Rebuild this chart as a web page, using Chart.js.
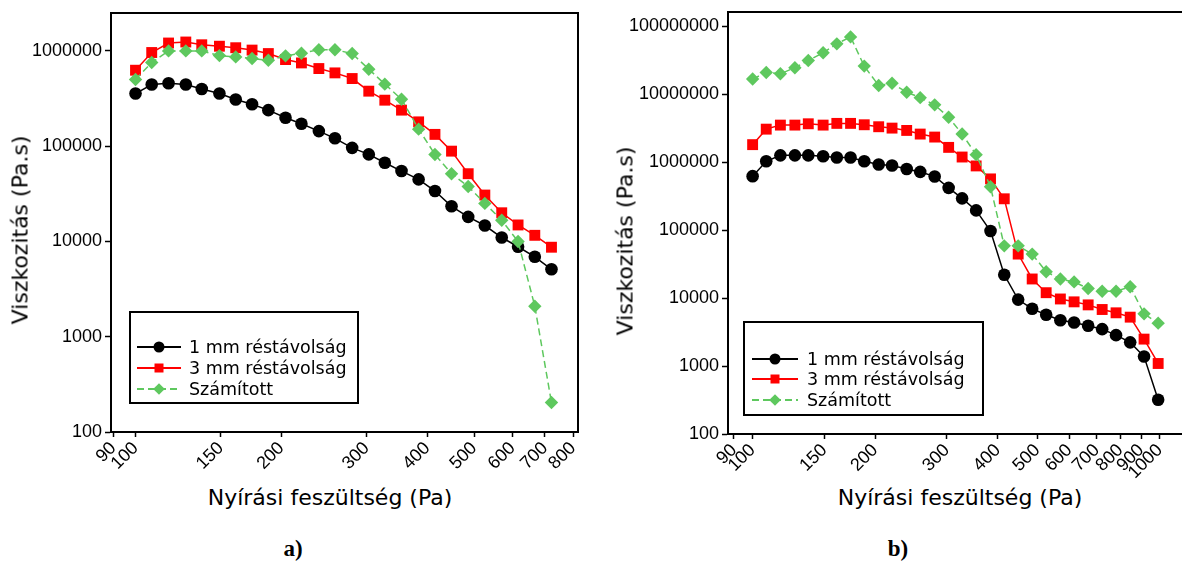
<!DOCTYPE html>
<html>
<head>
<meta charset="utf-8">
<script src="https://cdn.jsdelivr.net/npm/chart.js@4.4.1/dist/chart.umd.min.js"></script>
<style>
  body { margin: 0; background: #fff; }
  #page { position: relative; width: 1182px; height: 562px; overflow: hidden; background: #fff; font-family: "DejaVu Sans", sans-serif; }
  canvas { position: absolute; top: 0; }
  .lbl { position: absolute; white-space: nowrap; color: #000; transform: translate(-50%, -50%); }
  .axt { font-family: "DejaVu Sans", sans-serif; font-size: 22px; }
  .rot { transform: translate(-50%, -50%) rotate(-90deg); }
  .cap { font-family: "Liberation Serif", serif; font-weight: bold; font-size: 23px; }
</style>
</head>
<body>
<div id="page">
  <canvas id="chartA" width="590" height="480" style="left:0"></canvas>
  <canvas id="chartB" width="620" height="480" style="left:590px"></canvas>
  <div class="lbl axt rot" style="left:20px;top:230px">Viszkozitás (Pa.s)</div>
  <div class="lbl axt" style="left:330px;top:497px">Nyírási feszültség (Pa)</div>
  <div class="lbl axt rot" style="left:625px;top:241px">Viszkozitás (Pa.s)</div>
  <div class="lbl axt" style="left:960px;top:497px">Nyírási feszültség (Pa)</div>
  <div class="lbl cap" style="left:293px;top:549px">a)</div>
  <div class="lbl cap" style="left:898px;top:549px">b)</div>
</div>
<script>
// shear stress (Pa)
const stressA = [100, 108, 117, 127, 137, 149, 161, 174, 188, 204, 220, 239, 258, 280, 303, 327, 354, 384, 415, 449, 486, 526, 570, 616, 667, 722];
const stressB = [100, 108, 117, 127, 137, 149, 161, 174, 188, 204, 220, 239, 258, 280, 303, 327, 354, 384, 415, 449, 486, 526, 570, 616, 667, 722, 781, 846, 915, 991];

// viscosity (Pa.s), panel a
const gap1A = [357000, 444000, 458000, 444000, 399000, 357000, 309000, 276000, 239000, 199000, 172000, 144000, 121000, 96000, 82000, 67000, 54800, 44800, 33800, 23400, 18100, 14700, 11000, 8800, 6900, 5100];
const gap3A = [627000, 962000, 1210000, 1240000, 1160000, 1120000, 1080000, 1020000, 938000, 811000, 748000, 653000, 588000, 513000, 378000, 304000, 239000, 180000, 133000, 88700, 51400, 30700, 20000, 14900, 11600, 8700];
const calcA = [501000, 755000, 1000000, 1000000, 1000000, 893000, 865000, 831000, 798000, 887000, 946000, 1030000, 1030000, 938000, 643000, 448000, 311000, 151000, 81800, 51400, 37800, 25100, 16700, 10000, 2090, 204];

// viscosity (Pa.s), panel b
const gap1B = [622000, 1030000, 1260000, 1260000, 1260000, 1220000, 1170000, 1170000, 1030000, 922000, 891000, 795000, 719000, 615000, 419000, 293000, 195000, 97000, 22000, 9500, 6950, 5680, 4730, 4380, 3920, 3490, 2850, 2230, 1380, 319];
const gap3B = [1810000, 3060000, 3510000, 3510000, 3670000, 3510000, 3720000, 3720000, 3550000, 3320000, 3170000, 2930000, 2590000, 2340000, 1650000, 1190000, 880000, 567000, 289000, 44400, 19100, 12000, 9700, 8800, 7940, 6790, 6070, 5240, 2490, 1090];
const calcB = [16700000, 20900000, 20000000, 24500000, 31400000, 40700000, 55100000, 69700000, 25900000, 13400000, 14500000, 10700000, 8900000, 6970000, 4590000, 2590000, 1290000, 434000, 58700, 58700, 44400, 24400, 19100, 17300, 13800, 12600, 12600, 14700, 5860, 4280];

const seriesNames = ["1 mm réstávolság", "3 mm réstávolság", "Számított"];
const xTicksA = [90, 100, 150, 200, 300, 400, 500, 600, 700, 800];
const xTicksB = [90, 100, 150, 200, 300, 400, 500, 600, 700, 800, 900, 1000];
const yTicksA = [100, 1000, 10000, 100000, 1000000];
const yTicksB = [100, 1000, 10000, 100000, 1000000, 10000000, 100000000];

const GREEN = "#5ec85e";

const pts = (xs, ys) => ys.map((y, i) => ({ x: xs[i], y: y }));

function makeDatasets(xs, g1, g3, calc) {
  return [
    { label: seriesNames[0], data: pts(xs, g1), borderColor: "#000", backgroundColor: "#000",
      pointStyle: "circle", pointRadius: 6.3, borderWidth: 1.5, pointBorderWidth: 0, order: 3 },
    { label: seriesNames[1], data: pts(xs, g3), borderColor: "#ff0000", backgroundColor: "#ff0000",
      pointStyle: "rect", pointRadius: 7.7, borderWidth: 1.5, pointBorderWidth: 0, order: 2 },
    { label: seriesNames[2], data: pts(xs, calc), borderColor: GREEN, backgroundColor: GREEN,
      pointStyle: "rectRot", pointRadius: 6.7, borderWidth: 1.5, borderDash: [7, 4], pointBorderWidth: 0, order: 1 }
  ];
}

function makeScales(xMin, xMax, xTicks, yMax, yTicks, yWidth, xHeight) {
  return {
    x: {
      type: "logarithmic", min: xMin, max: xMax,
      afterBuildTicks: s => { s.ticks = xTicks.map(v => ({ value: v })); },
      afterFit: s => { s.height = xHeight; },
      ticks: { autoSkip: false, minRotation: 45, maxRotation: 45, padding: 2, color: "#000",
        font: { family: "Liberation Sans", size: 18, lineHeight: 1 }, callback: v => String(v) },
      grid: { drawOnChartArea: false, tickLength: 5, tickColor: "#000", tickWidth: 1.5 },
      border: { color: "#000", width: 2 }
    },
    y: {
      type: "logarithmic", min: 100, max: yMax,
      afterBuildTicks: s => { s.ticks = yTicks.map(v => ({ value: v })); },
      afterFit: s => { s.width = yWidth; },
      ticks: { padding: 3, color: "#000", font: { family: "Liberation Sans", size: 18, lineHeight: 1 },
        callback: v => String(v) },
      grid: { drawOnChartArea: false, tickLength: 6, tickColor: "#000", tickWidth: 1.5 },
      border: { color: "#000", width: 2 }
    }
  };
}

// box round the plot area
const frame = {
  id: "frame",
  afterDraw(chart) {
    const a = chart.chartArea, ctx = chart.ctx;
    ctx.save();
    ctx.strokeStyle = "#000";
    ctx.lineWidth = 2;
    ctx.strokeRect(a.left, a.top, a.right - a.left, a.bottom - a.top);
    ctx.restore();
  }
};

function marker(ctx, style, x, y, r) {
  ctx.beginPath();
  if (style === "circle") ctx.arc(x, y, r, 0, Math.PI * 2);
  else if (style === "rect") ctx.rect(x - r * 0.75, y - r * 0.75, r * 1.5, r * 1.5);
  else { ctx.moveTo(x - r, y); ctx.lineTo(x, y - r); ctx.lineTo(x + r, y); ctx.lineTo(x, y + r); ctx.closePath(); }
  ctx.fill();
}

// legend in a framed box inside the plot
const boxLegend = {
  id: "boxLegend",
  afterDraw(chart, args, o) {
    const ctx = chart.ctx;
    ctx.save();
    ctx.fillStyle = "#fff";
    ctx.fillRect(o.x, o.y, o.w, o.h);
    ctx.strokeStyle = "#000";
    ctx.lineWidth = 2;
    ctx.strokeRect(o.x, o.y, o.w, o.h);
    chart.data.datasets.forEach((ds, i) => {
      const y = o.rows[i];
      ctx.setLineDash(ds.borderDash || []);
      ctx.strokeStyle = ds.borderColor;
      ctx.lineWidth = 2;
      ctx.beginPath();
      ctx.moveTo(o.x0, y);
      ctx.lineTo(o.x1, y);
      ctx.stroke();
      ctx.setLineDash([]);
      ctx.fillStyle = ds.backgroundColor;
      marker(ctx, ds.pointStyle, (o.x0 + o.x1) / 2, y, [5.5, 6, 5.8][i]);
      ctx.fillStyle = "#000";
      ctx.font = '17.5px "DejaVu Sans"';
      ctx.textBaseline = "middle";
      ctx.fillText(ds.label, o.tx, y + 1);
    });
    ctx.restore();
  }
};

function build(id, datasets, scales, padding, legendBox) {
  return new Chart(document.getElementById(id), {
    type: "line",
    data: { datasets: datasets },
    options: {
      responsive: false,
      animation: false,
      devicePixelRatio: 1,
      layout: { padding: padding },
      elements: { line: { tension: 0 } },
      scales: scales,
      plugins: { legend: { display: false }, tooltip: { enabled: false }, boxLegend: legendBox }
    },
    plugins: [frame, boxLegend]
  });
}

build("chartA", makeDatasets(stressA, gap1A, gap3A, calcA),
  makeScales(89, 819, xTicksA, 2500000, yTicksA, 111, 48),
  { top: 13, right: 12, left: 0, bottom: 0 },
  { x: 130, y: 312, w: 228, h: 91, x0: 137, x1: 181, tx: 189, rows: [347, 368, 389] });

build("chartB", makeDatasets(stressB, gap1B, gap3B, calcB),
  makeScales(87, 1200, xTicksB, 162000000, yTicksB, 138, 46),
  { top: 10, right: 18, left: 0, bottom: 0 },
  { x: 154, y: 322, w: 239, h: 93, x0: 162, x1: 208, tx: 217, rows: [359, 379, 400] });
</script>
</body>
</html>
